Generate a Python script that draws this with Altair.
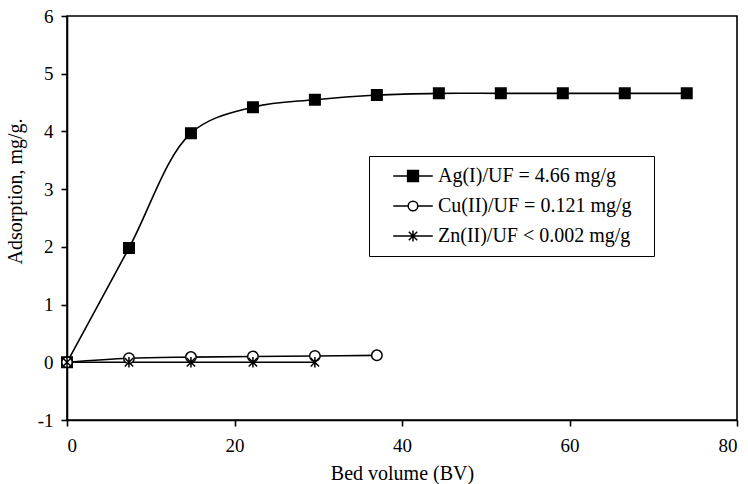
import altair as alt
import pandas as pd

bed_volume = [0, 7.4, 14.8, 22.2, 29.6, 37.0, 44.4, 51.8, 59.2, 66.6, 74.0]
ag_values = [0, 1.98, 3.97, 4.42, 4.55, 4.63, 4.66, 4.66, 4.66, 4.66, 4.66]
cu_values = [0, 0.07, 0.09, 0.10, 0.11, 0.12]
zn_values = [0, 0, 0, 0, 0]
labels = ["Ag(I)/UF = 4.66 mg/g", "Cu(II)/UF = 0.121 mg/g", "Zn(II)/UF < 0.002 mg/g"]
x_ticks = [0, 20, 40, 60, 80]
y_ticks = [-1, 0, 1, 2, 3, 4, 5, 6]

rows = []
for lab, vals in zip(labels, [ag_values, cu_values, zn_values]):
    for i, v in enumerate(vals):
        rows.append({"series": lab, "bv": bed_volume[i], "ads": v, "idx": i})
df = pd.DataFrame(rows)

FONT = "Liberation Serif"
ASTER = "M-0.8,-0.8L0.8,0.8M-0.8,0.8L0.8,-0.8M0,-1V1"
EXT = "M37.9,0"
LG_SQ = "M-3.3,0H3.3M-0.9,-0.9H0.9V0.9H-0.9Z" + EXT
LG_CI = "M-3.3,0H-0.8M0.8,0H3.3M-0.8,0A0.8,0.8 0 1,0 0.8,0A0.8,0.8 0 1,0 -0.8,0Z" + EXT
LG_AS = "M-3.3,0H3.3M-0.7,-0.7L0.7,0.7M-0.7,0.7L0.7,-0.7M0,-0.9V0.9" + EXT

neg_label = "datum.value < 0 ? '-' + abs(datum.value) : datum.label"
xenc = alt.X("bv:Q", scale=alt.Scale(domain=[0, 80], nice=False),
             axis=alt.Axis(values=x_ticks, title="Bed volume (BV)", titlePadding=8, labelPadding=10))
yenc = alt.Y("ads:Q", scale=alt.Scale(domain=[-1, 6], nice=False),
             axis=alt.Axis(values=y_ticks, title="Adsorption, mg/g.", titleX=-42, titleY=175,
                           labelPadding=8, labelExpr=neg_label))

base = alt.Chart(df)

lines = base.mark_line(color="black", strokeWidth=1.6, interpolate="catmull-rom").encode(
    x=xenc, y=yenc, detail="series:N", order="idx:Q"
)

points = base.mark_point(filled=True, stroke="black", strokeWidth=1.5, size=110, opacity=1).encode(
    x=xenc, y=yenc,
    shape=alt.Shape("series:N", scale=alt.Scale(domain=labels, range=["square", "circle", ASTER]), legend=None),
    fill=alt.Fill("series:N", scale=alt.Scale(domain=labels, range=["black", "white", "black"]), legend=None),
)

leg = alt.Legend(
    title=None, orient="none", legendX=302, legendY=140,
    strokeColor="black", fillColor="white", padding=10,
    labelFont=FONT, labelFontSize=20, labelColor="black", labelOffset=15, labelLimit=400,
    rowPadding=10, symbolSize=144, symbolStrokeWidth=1.5, symbolOffset=24,
)
legend_layer = base.transform_filter("false").mark_point(
    filled=True, strokeWidth=1.5, size=144, opacity=1
).encode(
    x=xenc, y=yenc,
    shape=alt.Shape("series:N", scale=alt.Scale(domain=labels, range=[LG_SQ, LG_CI, LG_AS]), legend=leg),
    fill=alt.Fill("series:N", scale=alt.Scale(domain=labels, range=["black", "white", "black"]), legend=leg),
    stroke=alt.Stroke("series:N", scale=alt.Scale(domain=labels, range=["black", "black", "black"]), legend=leg),
)

chart = alt.layer(lines, points, legend_layer).resolve_scale(
    shape="independent", fill="independent", stroke="independent"
).properties(
    width=670, height=404,
    autosize=alt.AutoSizeParams(type="none"),
    padding={"left": 67, "top": 16, "right": 11, "bottom": 64},
    background="white",
).configure_view(
    stroke="black", strokeWidth=1.6
).configure_axis(
    grid=False, domainColor="black", domainWidth=1.6, tickColor="black", tickWidth=1.6,
    tickSize=6, labelFont=FONT, labelFontSize=19, labelColor="black",
    titleFont=FONT, titleFontSize=20, titleFontWeight="normal", titleColor="black",
)

chart.save("out.html", embed_options={"renderer": "svg", "actions": False})
